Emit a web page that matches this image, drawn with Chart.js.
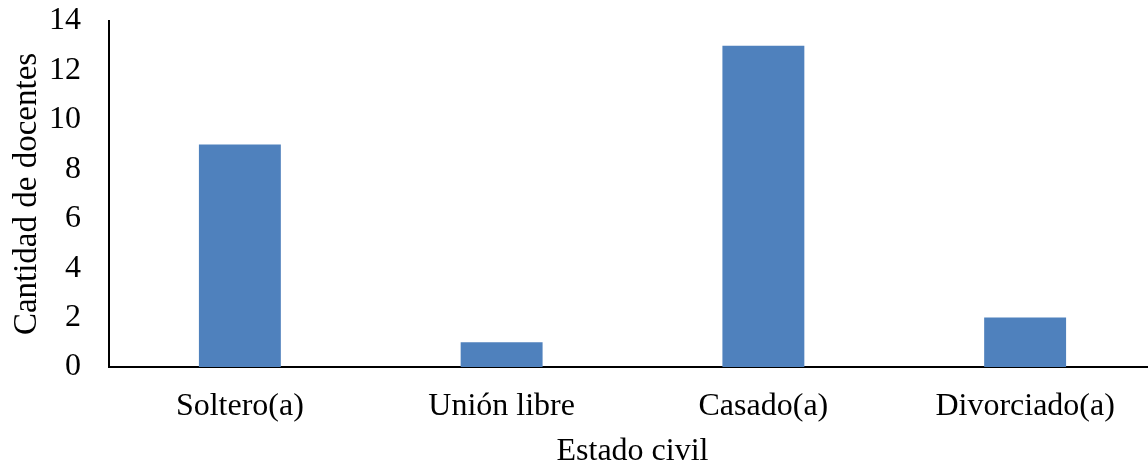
<!DOCTYPE html>
<html>
<head>
<meta charset="utf-8">
<script src="https://cdn.jsdelivr.net/npm/chart.js@4/dist/chart.umd.min.js"></script>
<style>
  html, body { margin: 0; padding: 0; background: #fff; overflow: hidden; }
  #wrap { position: relative; width: 1160px; height: 465px; }
</style>
</head>
<body>
<div id="wrap"><canvas id="c"></canvas></div>
<script>
const categories = ['Soltero(a)', 'Unión libre', 'Casado(a)', 'Divorciado(a)'];
const docentes = [9, 1, 13, 2];
const yTicks = [0, 2, 4, 6, 8, 10, 12, 14];
const xTitle = 'Estado civil';
const yTitle = 'Cantidad de docentes';

const FONT = '"Liberation Serif", "Times New Roman", serif';

new Chart(document.getElementById('c'), {
  type: 'bar',
  data: {
    labels: categories,
    datasets: [{
      data: docentes,
      backgroundColor: '#4F81BD',
      borderWidth: 0,
      barPercentage: 0.313,
      categoryPercentage: 1.0
    }]
  },
  options: {
    responsive: true,
    maintainAspectRatio: false,
    animation: false,
    layout: { padding: { top: 21, right: 4, left: 0, bottom: 0 } },
    plugins: { legend: { display: false }, tooltip: { enabled: false } },
    scales: {
      x: {
        grid: { display: false, drawTicks: false },
        border: { display: true, color: '#000', width: 2 },
        ticks: { color: '#000', font: { family: FONT, size: 32 }, padding: 20, maxRotation: 0 },
        title: { display: true, text: xTitle, color: '#000', font: { family: FONT, size: 32 }, padding: { top: 8, bottom: -6 } },
        afterFit: (s) => { s.height = 98; s.paddingLeft = 0; s.paddingRight = 0; }
      },
      y: {
        min: 0, max: 14,
        afterBuildTicks: (s) => { s.ticks = yTicks.map(v => ({ value: v })); },
        grid: { display: false, drawTicks: false },
        border: { display: true, color: '#000', width: 2 },
        ticks: { color: '#000', font: { family: FONT, size: 32 }, padding: 28 },
        title: { display: true, text: yTitle, color: '#000', font: { family: FONT, size: 33 }, padding: { top: 8, bottom: 0 } },
        afterFit: (s) => { s.width = 109; s.paddingTop = 0; s.paddingBottom = 0; }
      }
    }
  }
});
</script>
</body>
</html>
